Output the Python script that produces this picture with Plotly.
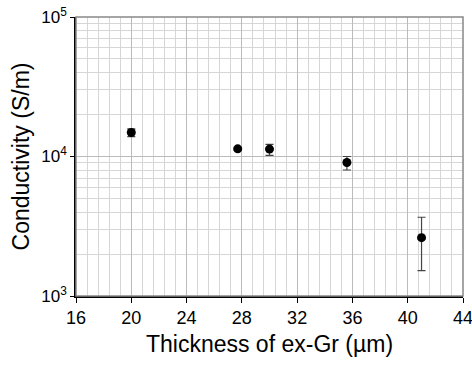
import plotly.graph_objects as go

thickness = [20.0, 27.7, 30.0, 35.6, 41.0]
conductivity = [14850, 11350, 11300, 9050, 2620]
err_plus = [950, 300, 900, 950, 1050]
err_minus = [950, 300, 1100, 1050, 1100]

x_ticks = [16, 20, 24, 28, 32, 36, 40, 44]
y_ticks = [1e3, 1e4, 1e5]
y_tick_text = ["10<sup>3</sup>", "10<sup>4</sup>", "10<sup>5</sup>"]

fig = go.Figure()
fig.add_trace(go.Scatter(
    x=thickness, y=conductivity, mode="markers",
    marker=dict(color="black", size=9),
    error_y=dict(type="data", array=err_plus, arrayminus=err_minus,
                 symmetric=False, color="#444", thickness=1.2, width=4),
))

font = "Liberation Sans, Arial, sans-serif"
fig.update_layout(
    width=472, height=367,
    margin=dict(l=76, r=9, t=17, b=71),
    plot_bgcolor="white", paper_bgcolor="white",
    showlegend=False,
    font=dict(family=font, color="black"),
    xaxis=dict(
        range=[16, 44], tickvals=x_ticks, ticks="outside", ticklen=5,
        tickcolor="black", tickfont=dict(size=18), ticklabeloverflow="allow",
        showline=True, linecolor="black", linewidth=1.5, mirror=False,
        showgrid=True, gridcolor="#bbbbbb", gridwidth=1,
        minor=dict(dtick=0.8, tick0=16, showgrid=True, gridcolor="#d6d6d6", gridwidth=1),
        title=dict(text="Thickness of ex-Gr (µm)", font=dict(size=23), standoff=9),
        zeroline=False, automargin=False,
    ),
    yaxis=dict(
        type="log", range=[3, 5], tickvals=y_ticks, ticktext=y_tick_text,
        ticks="outside", ticklen=4, tickcolor="black", tickfont=dict(size=17),
        ticklabeloverflow="allow",
        showline=True, linecolor="black", linewidth=1.5,
        showgrid=True, gridcolor="#bbbbbb", gridwidth=1,
        minor=dict(dtick="D1", showgrid=True, gridcolor="#d6d6d6", gridwidth=1, ticks=""),
        title=dict(text="Conductivity (S/m)", font=dict(size=23), standoff=5),
        zeroline=False, automargin=False,
    ),
)
fig.update_layout(shapes=[dict(type="rect", xref="paper", yref="paper", x0=0, x1=1, y0=0, y1=1,
                               line=dict(color="#888", width=1.5), layer="above")])
fig.write_html("out.html", config={"displayModeBar": False},
               post_script="document.body.style.margin='0';document.body.style.overflow='hidden';")
